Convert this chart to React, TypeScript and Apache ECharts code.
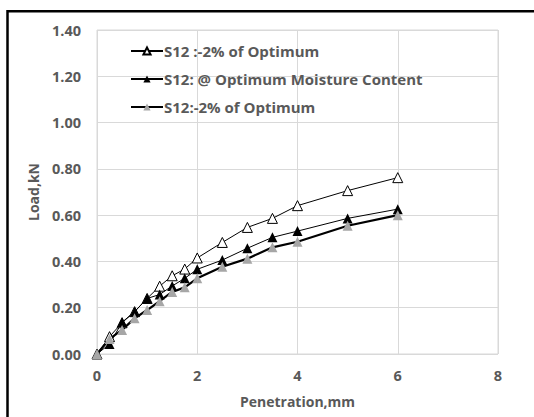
import React, { useEffect, useRef } from "react";
import * as echarts from "echarts";

const penetration = [0, 0.25, 0.5, 0.75, 1, 1.25, 1.5, 1.75, 2, 2.5, 3, 3.5, 4, 5, 6];
const seriesDryOpen = [0, 0.075, 0.135, 0.183, 0.24, 0.293, 0.338, 0.367, 0.415, 0.482, 0.547, 0.586, 0.641, 0.706, 0.762];
const seriesOptimum = [0, 0.043, 0.137, 0.183, 0.24, 0.257, 0.294, 0.327, 0.366, 0.406, 0.457, 0.504, 0.531, 0.586, 0.626];
const seriesDryGray = [0, 0.065, 0.104, 0.154, 0.19, 0.228, 0.268, 0.288, 0.327, 0.377, 0.412, 0.461, 0.485, 0.554, 0.6];
const seriesNames = [
  "S12 :-2% of Optimum",
  "S12: @ Optimum Moisture Content",
  "S12:-2% of Optimum",
];

const FONT = "Open Sans";
const TEXT = "#595959";

export default function App() {
  const ref = useRef<HTMLDivElement>(null);
  useEffect(() => {
    if (!ref.current) return;
    const chart = echarts.init(ref.current, undefined, { renderer: "svg" });
    const pairs = (ys: number[]) => penetration.map((x, i) => [x, ys[i]]);
    chart.setOption({
      animation: false,
      backgroundColor: "#fff",
      textStyle: { fontFamily: FONT },
      grid: { left: 97, right: 36, top: 30, bottom: 63, show: true, borderColor: "#d9d9d9", borderWidth: 1 },
      legend: {
        left: 125,
        top: 38,
        orient: "vertical",
        itemGap: 12,
        itemWidth: 32,
        itemHeight: 9,
        textStyle: {
          fontFamily: FONT,
          fontWeight: "bold",
          fontSize: 15,
          lineHeight: 16,
          color: TEXT,
          padding: [0, 0, 0, -4],
        },
        data: seriesNames,
      },
      xAxis: {
        type: "value",
        min: 0,
        max: 8,
        interval: 2,
        name: "Penetration,mm",
        nameLocation: "middle",
        nameGap: 40,
        nameTextStyle: { fontFamily: FONT, fontWeight: "bold", fontSize: 14, color: TEXT },
        axisLine: { show: false },
        axisTick: { show: false },
        axisLabel: { margin: 14, fontFamily: FONT, fontWeight: "bold", fontSize: 14.5, color: TEXT },
        splitLine: { show: true, lineStyle: { color: "#d9d9d9", width: 1 } },
      },
      yAxis: {
        type: "value",
        min: 0,
        max: 1.4,
        interval: 0.2,
        name: "Load,kN",
        nameLocation: "middle",
        nameGap: 57,
        nameTextStyle: { fontFamily: FONT, fontWeight: "bold", fontSize: 14, color: TEXT },
        axisLine: { show: false },
        axisTick: { show: false },
        axisLabel: {
          margin: 16,
          fontFamily: FONT,
          fontWeight: "bold",
          fontSize: 14.5,
          color: TEXT,
          formatter: (v: number) => v.toFixed(2),
        },
        splitLine: { show: true, lineStyle: { color: "#d9d9d9", width: 1 } },
      },
      series: [
        {
          name: seriesNames[0],
          type: "line",
          data: pairs(seriesDryOpen),
          symbol: "triangle",
          symbolSize: 10,
          lineStyle: { color: "#000", width: 1 },
          itemStyle: { color: "#fff", borderColor: "#000", borderWidth: 1 },
        },
        {
          name: seriesNames[1],
          type: "line",
          data: pairs(seriesOptimum),
          symbol: "triangle",
          symbolSize: 10,
          lineStyle: { color: "#000", width: 1 },
          itemStyle: { color: "#000", borderColor: "#000", borderWidth: 0 },
        },
        {
          name: seriesNames[2],
          type: "line",
          data: pairs(seriesDryGray),
          symbol: "triangle",
          symbolSize: 10,
          lineStyle: { color: "#000", width: 2.2 },
          itemStyle: { color: "#a6a6a6", borderColor: "#a6a6a6", borderWidth: 0 },
        },
      ],
      graphic: [
        {
          type: "rect",
          shape: { x: 7.5, y: 11.2, width: 600, height: 600 },
          style: { fill: "none", stroke: "#000", lineWidth: 2.5 },
          silent: true,
        },
      ],
    });
    return () => chart.dispose();
  }, []);
  return (
    <div
      ref={ref}
      style={{ position: "fixed", left: 0, top: 0, width: 534, height: 417 }}
    />
  );
}
